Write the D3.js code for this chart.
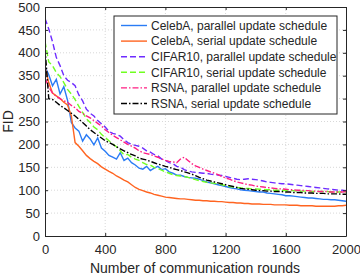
<!DOCTYPE html>
<html>
<head>
<meta charset="utf-8">
<script src="https://cdn.jsdelivr.net/npm/d3@7"></script>
<style>
  body { margin: 0; background: #fff; }
  text { font-family: "Liberation Sans", Arial, sans-serif; fill: #262626; }
</style>
</head>
<body>
<div class="chart"></div>
<script>
// chart values
var rounds = [0, 25, 50, 75, 100, 125, 150, 175, 200, 225, 250, 275, 300, 325, 350, 375, 400, 425, 450, 475,
  500, 525, 550, 575, 600, 625, 650, 675, 700, 725, 750, 775, 800, 825, 850, 875, 900, 925, 950, 975,
  1000, 1025, 1050, 1075, 1100, 1125, 1150, 1175, 1200, 1225, 1250, 1275, 1300, 1325, 1350, 1375, 1400, 1425, 1450, 1475,
  1500, 1525, 1550, 1575, 1600, 1625, 1650, 1675, 1700, 1725, 1750, 1775, 1800, 1825, 1850, 1875, 1900, 1925, 1950, 1975, 2000];

var celebaParallel = [370, 352, 328, 342, 310, 326, 296, 248, 236, 229, 207, 221, 212, 199, 214, 192, 185, 176, 172, 168,
  182, 165, 170, 160, 155, 148, 146, 152, 143, 148, 152, 145, 147, 140, 137, 133, 133, 130, 128, 127,
  126, 124, 121, 118, 116, 114, 112, 110, 108, 106, 104, 103, 101, 100, 99, 98, 97, 96, 96, 94,
  93, 92, 91, 90, 88, 88, 87, 86, 85, 84, 83, 83, 82, 81, 80, 80, 79, 79, 78, 77, 76];

var celebaSerial = [370, 335, 312, 306, 300, 292, 286, 262, 204, 196, 186, 176, 169, 163, 158, 151, 146, 141, 137, 131,
  127, 122, 118, 112, 106, 102, 99, 96, 94, 91, 89, 87, 85, 84, 83, 82, 81, 81, 80, 79,
  78, 78, 77, 77, 76, 76, 75, 75, 74, 73, 73, 72, 72, 71, 71, 70, 70, 70, 69, 69,
  69, 68, 68, 68, 68, 67, 67, 67, 66, 66, 66, 66, 65, 65, 65, 65, 65, 65, 66, 66, 67];

var cifarParallel = [475, 452, 424, 390, 372, 350, 340, 335, 328, 308, 295, 277, 268, 262, 252, 245, 238, 228, 224, 222,
  218, 210, 204, 200, 198, 196, 192, 186, 183, 178, 175, 168, 165, 160, 158, 152, 150, 145, 142, 140,
  139, 138, 137, 137, 135, 134, 133, 132, 130, 128, 126, 124, 123, 124, 125, 124, 123, 122, 120, 118,
  117, 116, 115, 114, 114, 113, 112, 111, 110, 109, 108, 107, 106, 105, 104, 103, 102, 101, 100, 100, 99];

var cifarSerial = [425, 380, 372, 357, 348, 335, 320, 310, 298, 283, 270, 256, 248, 238, 232, 222, 215, 208, 201, 195,
  186, 177, 178, 172, 168, 165, 160, 156, 155, 150, 147, 144, 140, 137, 134, 132, 131, 130, 128, 126,
  123, 121, 119, 117, 116, 115, 114, 112, 110, 108, 107, 106, 105, 104, 104, 103, 103, 102, 102, 101,
  101, 100, 100, 100, 99, 99, 99, 98, 98, 98, 98, 97, 97, 97, 97, 97, 96, 96, 96, 96, 96];

var rsnaParallel = [345, 325, 312, 305, 300, 295, 292, 285, 280, 272, 268, 262, 258, 252, 246, 240, 232, 226, 220, 215,
  210, 205, 200, 196, 192, 186, 182, 180, 178, 175, 172, 168, 165, 163, 162, 160, 168, 172, 165, 158,
  153, 150, 146, 143, 140, 137, 134, 130, 127, 124, 121, 118, 116, 114, 112, 111, 109, 108, 107, 106,
  105, 104, 103, 103, 102, 101, 101, 100, 100, 99, 99, 98, 98, 97, 97, 97, 96, 96, 96, 96, 97];

var rsnaSerial = [410, 300, 298, 292, 285, 280, 274, 268, 262, 255, 248, 240, 232, 226, 220, 214, 208, 204, 200, 195,
  190, 186, 182, 178, 175, 170, 168, 166, 163, 160, 157, 155, 152, 150, 147, 145, 143, 140, 138, 135,
  132, 128, 125, 122, 120, 118, 116, 114, 112, 110, 108, 106, 104, 103, 102, 101, 100, 99, 99, 98,
  98, 97, 97, 97, 96, 96, 95, 95, 95, 94, 94, 94, 93, 93, 93, 92, 92, 92, 92, 91, 91];

var seriesNames = ["CelebA, parallel update schedule", "CelebA, serial update schedule",
  "CIFAR10, parallel update schedule", "CIFAR10, serial update schedule",
  "RSNA, parallel update schedule", "RSNA, serial update schedule"];
var seriesValues = [celebaParallel, celebaSerial, cifarParallel, cifarSerial, rsnaParallel, rsnaSerial];

var xTicks = [0, 400, 800, 1200, 1600, 2000];
var yTicks = [0, 50, 100, 150, 200, 250, 300, 350, 400, 450, 500];

// styles
var colors = ["#2a7cf5", "#ff6420", "#6e2cff", "#70ff20", "#ff1e82", "#000000"];
var dashes = [null, null, "6,3", "6,3", "6,2,1.5,2", "6,2,1.5,2"];

var svgWidth = 360;
var svgHeight = 275;
var margin = { top: 7, right: 14, bottom: 39, left: 45 };
var width = svgWidth - margin.left - margin.right;
var height = svgHeight - margin.top - margin.bottom;

var svg = d3.select(".chart")
  .append("svg")
  .attr("width", svgWidth)
  .attr("height", svgHeight);

var chart = svg.append("g")
  .attr("transform", "translate(" + margin.left + "," + margin.top + ")");

var xLinearScale = d3.scaleLinear().domain([0, 2000]).range([0, width]);
var yLinearScale = d3.scaleLinear().domain([0, 500]).range([height, 0]);

// dotted grid
chart.append("g")
  .selectAll("line")
  .data(xTicks.slice(1, -1))
  .enter().append("line")
  .attr("x1", function(d) { return xLinearScale(d); })
  .attr("x2", function(d) { return xLinearScale(d); })
  .attr("y1", 0)
  .attr("y2", height)
  .attr("stroke", "#d8d8d8")
  .attr("stroke-dasharray", "1,2");

chart.append("g")
  .selectAll("line")
  .data(yTicks.slice(1, -1))
  .enter().append("line")
  .attr("x1", 0)
  .attr("x2", width)
  .attr("y1", function(d) { return yLinearScale(d); })
  .attr("y2", function(d) { return yLinearScale(d); })
  .attr("stroke", "#d8d8d8")
  .attr("stroke-dasharray", "1,2");

// data lines
var line = d3.line()
  .x(function(d, i) { return xLinearScale(rounds[i]); })
  .y(function(d) { return yLinearScale(d); });

chart.append("defs").append("clipPath")
  .attr("id", "plotclip")
  .append("rect")
  .attr("width", width)
  .attr("height", height);

seriesValues.forEach(function(vals, i) {
  chart.append("path")
    .datum(vals)
    .attr("clip-path", "url(#plotclip)")
    .attr("fill", "none")
    .attr("stroke", colors[i])
    .attr("stroke-width", 1.4)
    .attr("stroke-dasharray", dashes[i])
    .attr("d", line);
});

// axes, ticks pointing inwards on all four sides
var bottomAxis = d3.axisBottom(xLinearScale).tickValues(xTicks).tickFormat(d3.format("d"))
  .tickSizeInner(-3).tickSizeOuter(0).tickPadding(9);
var leftAxis = d3.axisLeft(yLinearScale).tickValues(yTicks).tickFormat(d3.format("d"))
  .tickSizeInner(-3).tickSizeOuter(0).tickPadding(5);
var topAxis = d3.axisTop(xLinearScale).tickValues(xTicks).tickSizeInner(-3).tickSizeOuter(0).tickFormat("");
var rightAxis = d3.axisRight(yLinearScale).tickValues(yTicks).tickSizeInner(-3).tickSizeOuter(0).tickFormat("");

var gx = chart.append("g").attr("transform", "translate(0," + height + ")").call(bottomAxis);
var gy = chart.append("g").call(leftAxis);
var gt = chart.append("g").call(topAxis);
var gr = chart.append("g").attr("transform", "translate(" + width + ",0)").call(rightAxis);

[gx, gy, gt, gr].forEach(function(g) {
  g.selectAll("path, line").attr("stroke", "#262626");
  g.selectAll("text")
    .attr("fill", "#262626")
    .style("font-family", "'Liberation Sans', Arial, sans-serif")
    .style("font-size", "13px");
});

// legend
var legend = chart.append("g").attr("transform", "translate(69,9)");
legend.append("rect")
  .attr("width", 223)
  .attr("height", 98)
  .attr("fill", "#fff")
  .attr("stroke", "#262626")
  .attr("stroke-width", 1);

seriesNames.forEach(function(name, i) {
  var yy = 9.5 + i * 15.6;
  legend.append("line")
    .attr("x1", 7)
    .attr("x2", 33)
    .attr("y1", yy)
    .attr("y2", yy)
    .attr("stroke", colors[i])
    .attr("stroke-width", 1.4)
    .attr("stroke-dasharray", dashes[i]);
  legend.append("text")
    .attr("x", 37)
    .attr("y", yy + 4.3)
    .style("font-size", "12px")
    .text(name);
});

// axis titles
chart.append("text")
  .attr("transform", "rotate(-90)")
  .attr("x", -height / 2)
  .attr("y", -32)
  .attr("text-anchor", "middle")
  .style("font-size", "14px")
  .text("FID");

chart.append("text")
  .attr("x", width / 2 - 0.5)
  .attr("y", height + 36.5)
  .attr("text-anchor", "middle")
  .style("font-size", "14px")
  .text("Number of communication rounds");
</script>
</body>
</html>
